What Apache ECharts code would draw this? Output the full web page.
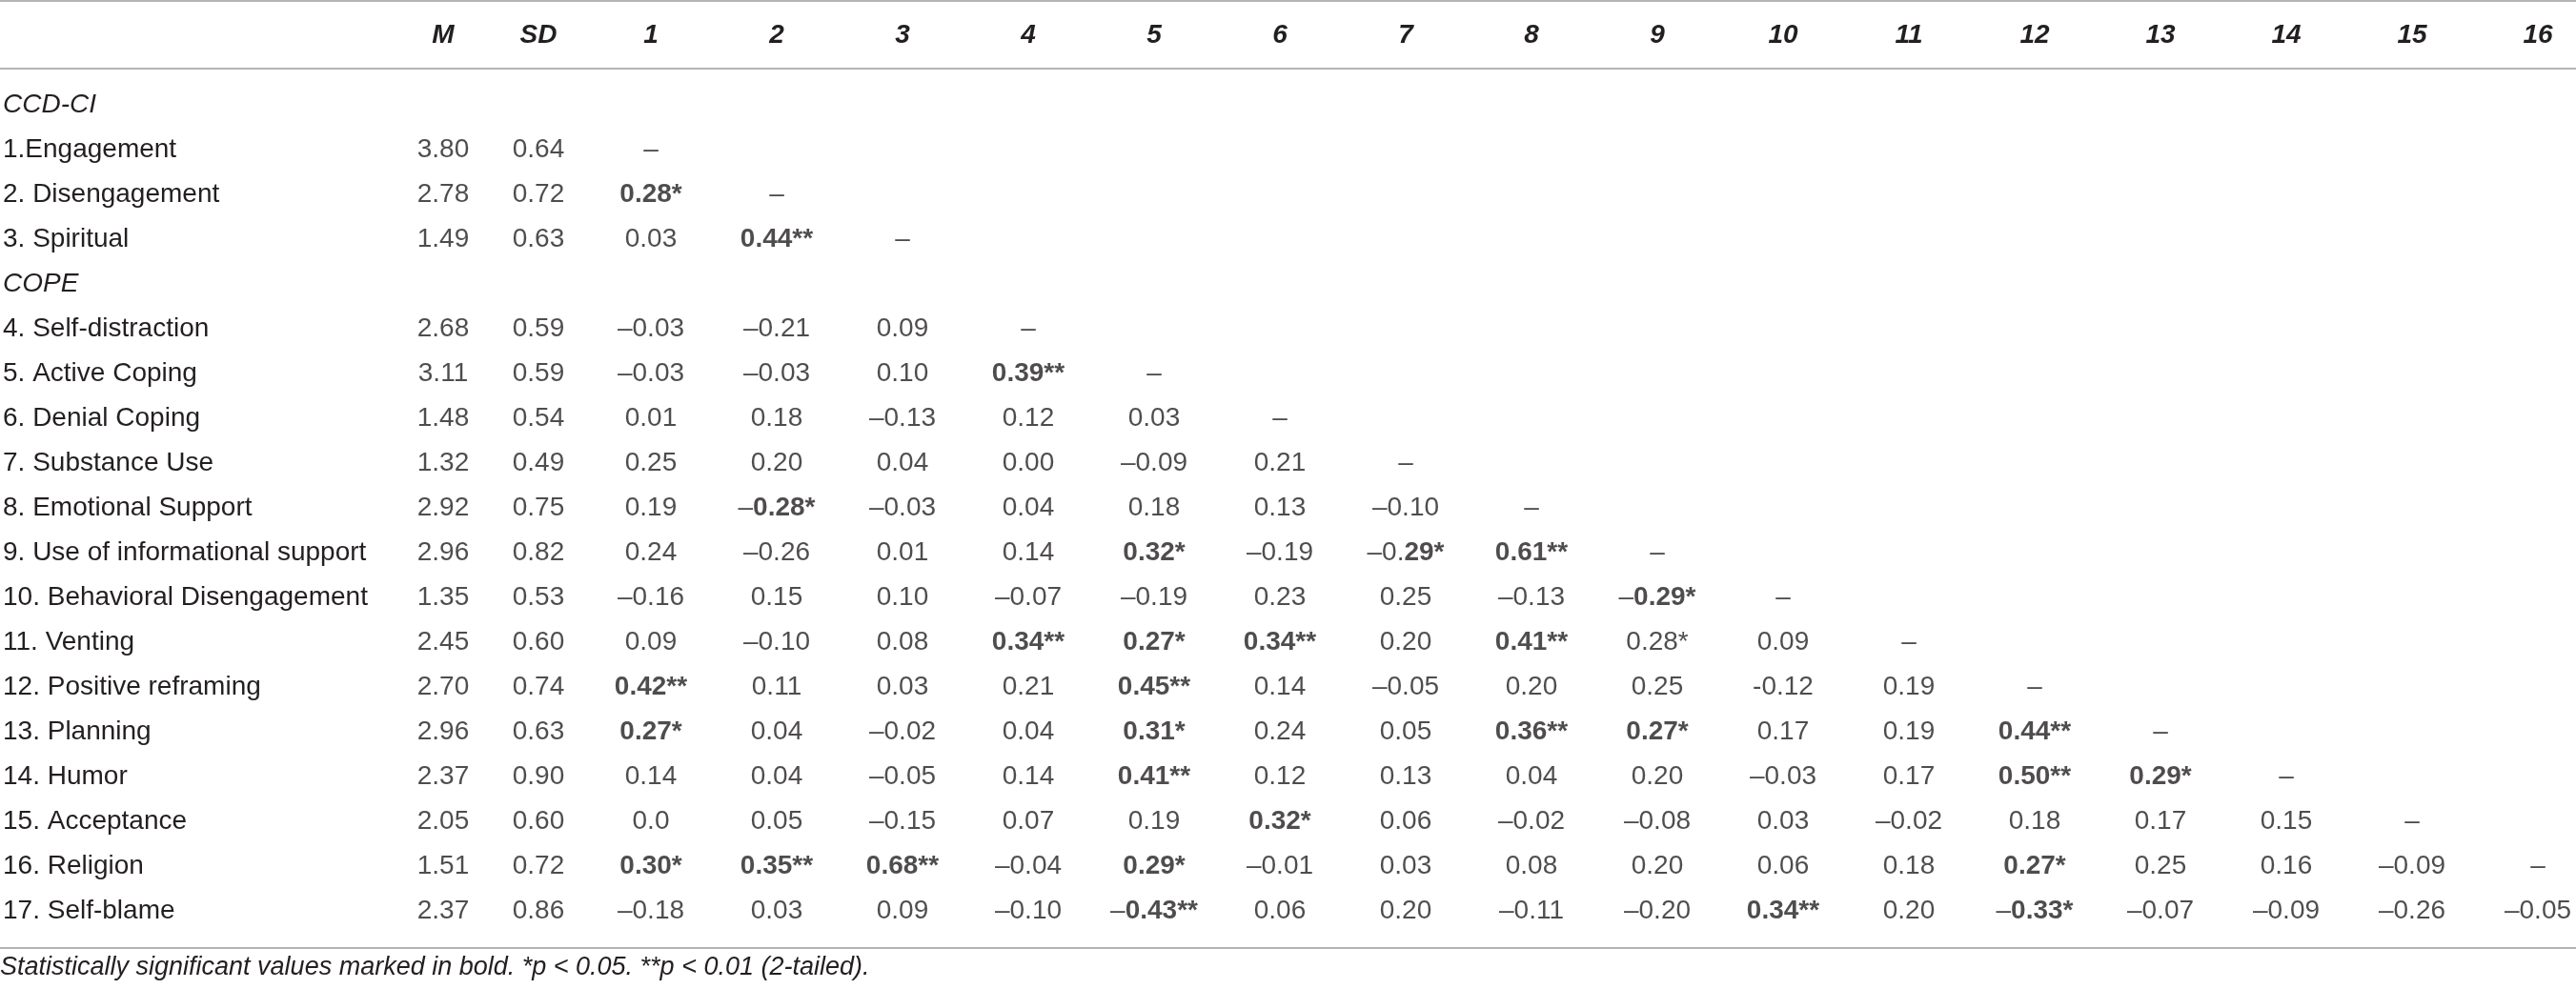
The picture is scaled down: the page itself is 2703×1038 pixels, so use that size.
<!DOCTYPE html>
<html>
<head>
<meta charset="utf-8">
<script src="https://cdn.jsdelivr.net/npm/echarts@6/dist/echarts.min.js"></script>
<style>
  html, body { margin: 0; padding: 0; background: #fff; }
  #main { width: 2703px; height: 1038px; }
</style>
</head>
<body>
<div id="main"></div>
<script>
// rows of the table, section headings included
const rowLabels = [
  'CCD-CI', '1.Engagement', '2. Disengagement', '3. Spiritual',
  'COPE', '4. Self-distraction', '5. Active Coping', '6. Denial Coping',
  '7. Substance Use', '8. Emotional Support', '9. Use of informational support',
  '10. Behavioral Disengagement', '11. Venting', '12. Positive reframing',
  '13. Planning', '14. Humor', '15. Acceptance', '16. Religion', '17. Self-blame'
]
const sectionRows = ['CCD-CI', 'COPE']
const variables = rowLabels.filter((r) => !sectionRows.includes(r))

const statCols = ['M', 'SD']
const corrCols = ['1', '2', '3', '4', '5', '6', '7', '8', '9', '10', '11', '12', '13', '14', '15', '16']

const means = ['3.80', '2.78', '1.49', '2.68', '3.11', '1.48', '1.32', '2.92', '2.96', '1.35', '2.45', '2.70', '2.96', '2.37', '2.05', '1.51', '2.37']
const sds = ['0.64', '0.72', '0.63', '0.59', '0.59', '0.54', '0.49', '0.75', '0.82', '0.53', '0.60', '0.74', '0.63', '0.90', '0.60', '0.72', '0.86']

// "!" marks where bold text starts (text before it stays regular)
const corr = [
  ['–'],
  ['!0.28*', '–'],
  ['0.03', '!0.44**', '–'],
  ['–0.03', '–0.21', '0.09', '–'],
  ['–0.03', '–0.03', '0.10', '!0.39**', '–'],
  ['0.01', '0.18', '–0.13', '0.12', '0.03', '–'],
  ['0.25', '0.20', '0.04', '0.00', '–0.09', '0.21', '–'],
  ['0.19', '–!0.28*', '–0.03', '0.04', '0.18', '0.13', '–0.10', '–'],
  ['0.24', '–0.26', '0.01', '0.14', '!0.32*', '–0.19', '–0.!29*', '!0.61**', '–'],
  ['–0.16', '0.15', '0.10', '–0.07', '–0.19', '0.23', '0.25', '–0.13', '–!0.29*', '–'],
  ['0.09', '–0.10', '0.08', '!0.34**', '!0.27*', '!0.34**', '0.20', '!0.41**', '0.28*', '0.09', '–'],
  ['!0.42**', '0.11', '0.03', '0.21', '!0.45**', '0.14', '–0.05', '0.20', '0.25', '-0.12', '0.19', '–'],
  ['!0.27*', '0.04', '–0.02', '0.04', '!0.31*', '0.24', '0.05', '!0.36**', '!0.27*', '0.17', '0.19', '!0.44**', '–'],
  ['0.14', '0.04', '–0.05', '0.14', '!0.41**', '0.12', '0.13', '0.04', '0.20', '–0.03', '0.17', '!0.50**', '!0.29*', '–'],
  ['0.0', '0.05', '–0.15', '0.07', '0.19', '!0.32*', '0.06', '–0.02', '–0.08', '0.03', '–0.02', '0.18', '0.17', '0.15', '–'],
  ['!0.30*', '!0.35**', '!0.68**', '–0.04', '!0.29*', '–0.01', '0.03', '0.08', '0.20', '0.06', '0.18', '!0.27*', '0.25', '0.16', '–0.09', '–'],
  ['–0.18', '0.03', '0.09', '–0.10', '–!0.43**', '0.06', '0.20', '–0.11', '–0.20', '!0.34**', '0.20', '–!0.33*', '–0.07', '–0.09', '–0.26', '–0.05']
]

const footnote = 'Statistically significant values marked in bold. *p < 0.05. **p < 0.01 (2-tailed).'

const FONT = '"Liberation Sans", Arial, Helvetica, sans-serif'
const INK = '#231f20'
const SIZE = 28

const statData = []
const cellData = []
variables.forEach((name, i) => {
  const r = rowLabels.indexOf(name)
  statData.push([0, r, means[i]], [1, r, sds[i]])
  corr[i].forEach((txt, j) => cellData.push([j, r, txt]))
})

const richStyles = {
  n: { fontFamily: FONT, fontSize: SIZE, color: INK, fontWeight: 'normal' },
  b: { fontFamily: FONT, fontSize: SIZE, color: INK, fontWeight: 'bold' },
  i: { fontFamily: FONT, fontSize: SIZE, color: INK, fontStyle: 'italic' },
}

function cellText(p) {
  const t = p.value[2]
  const k = t.indexOf('!')
  if (k < 0) return '{n|' + t + '}'
  return (k > 0 ? '{n|' + t.slice(0, k) + '}' : '') + '{b|' + t.slice(k + 1) + '}'
}

const gridTop = 110
const gridBottom = 82
const headerLabel = {
  show: true, interval: 0, margin: 73, verticalAlign: 'middle',
  fontFamily: FONT, fontSize: SIZE, color: INK, fontWeight: 'bold', fontStyle: 'italic',
}
const hidden = { axisLine: { show: false }, axisTick: { show: false }, splitLine: { show: false } }

const chart = echarts.init(document.getElementById('main'))
chart.setOption({
  animation: false,
  backgroundColor: '#fff',
  title: {
    text: footnote,
    left: 0, top: 1002, padding: 0,
    textStyle: { fontFamily: FONT, fontSize: 27, color: INK, fontWeight: 'normal', fontStyle: 'italic' },
  },
  grid: [
    { left: 462, right: 2703 - 565, top: gridTop, bottom: gridBottom },
    { left: 683, right: 40, top: gridTop, bottom: gridBottom },
  ],
  xAxis: [
    { type: 'category', gridIndex: 0, data: statCols, position: 'top', boundaryGap: false, axisLabel: headerLabel, ...hidden },
    { type: 'category', gridIndex: 1, data: corrCols, position: 'top', boundaryGap: false, axisLabel: headerLabel, ...hidden },
  ],
  yAxis: [
    {
      type: 'category', gridIndex: 0, data: rowLabels, inverse: true, boundaryGap: false,
      axisLabel: {
        interval: 0, align: 'left', margin: 462,
        formatter: (v) => (sectionRows.includes(v) ? '{i|' + v + '}' : '{n|' + v + '}'),
        rich: richStyles,
      },
      ...hidden,
    },
    {
      type: 'category', gridIndex: 1, data: rowLabels, inverse: true, boundaryGap: false,
      axisLabel: { show: false }, ...hidden,
    },
  ],
  series: [
    {
      type: 'scatter', xAxisIndex: 0, yAxisIndex: 0, data: statData,
      symbolSize: 1, itemStyle: { color: 'rgba(0,0,0,0)' },
      label: { show: true, position: 'inside', formatter: (p) => '{n|' + p.value[2] + '}', rich: richStyles },
    },
    {
      type: 'scatter', xAxisIndex: 1, yAxisIndex: 1, data: cellData,
      symbolSize: 1, itemStyle: { color: 'rgba(0,0,0,0)' },
      label: { show: true, position: 'inside', formatter: cellText, rich: richStyles },
    },
  ],
  graphic: [
    { type: 'line', shape: { x1: 0, y1: 1, x2: 2703, y2: 1 }, style: { stroke: '#b4b4b4', lineWidth: 2 } },
    { type: 'line', shape: { x1: 0, y1: 72, x2: 2703, y2: 72 }, style: { stroke: '#b4b4b4', lineWidth: 2 } },
    { type: 'line', shape: { x1: 0, y1: 995, x2: 2703, y2: 995 }, style: { stroke: '#b4b4b4', lineWidth: 2 } },
  ],
})
</script>
</body>
</html>
